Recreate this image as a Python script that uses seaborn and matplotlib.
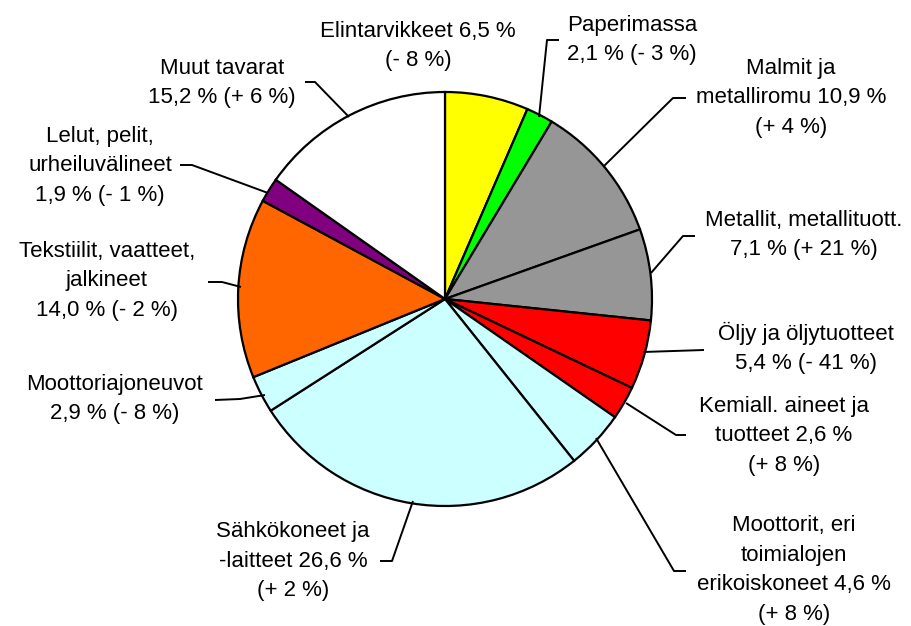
import matplotlib
matplotlib.use("Agg")
import matplotlib.pyplot as plt
import seaborn as sns

# Product groups, share of total (%) and change from previous year
categories = [
    "Elintarvikkeet", "Paperimassa", "Malmit ja metalliromu",
    "Metallit, metallituott.", "Öljy ja öljytuotteet",
    "Kemiall. aineet ja tuotteet", "Moottorit, eri toimialojen erikoiskoneet",
    "Sähkökoneet ja -laitteet", "Moottoriajoneuvot",
    "Tekstiilit, vaatteet, jalkineet", "Lelut, pelit, urheiluvälineet",
    "Muut tavarat",
]
shares = [6.5, 2.1, 10.9, 7.1, 5.4, 2.6, 4.6, 26.6, 2.9, 14.0, 1.9, 15.2]
changes = ["- 8", "- 3", "+ 4", "+ 21", "- 41", "+ 8", "+ 8", "+ 2", "- 8", "- 2", "- 1", "+ 6"]
colors = ["#FFFF00", "#00FF00", "#969696", "#969696", "#FF0000", "#FF0000",
          "#CCFFFF", "#CCFFFF", "#CCFFFF", "#FF6600", "#800080", "#FFFFFF"]

def pct(v):
    return f"{v:.1f}".replace(".", ",") + " %"

labels = [
    f"Elintarvikkeet {pct(shares[0])}\n({changes[0]} %)",
    f"Paperimassa\n{pct(shares[1])} ({changes[1]} %)",
    f"Malmit ja\nmetalliromu {pct(shares[2])}\n({changes[2]} %)",
    f"Metallit, metallituott.\n{pct(shares[3])} ({changes[3]} %)",
    f"Öljy ja öljytuotteet\n{pct(shares[4])} ({changes[4]} %)",
    f"Kemiall. aineet ja\ntuotteet {pct(shares[5])}\n({changes[5]} %)",
    f"Moottorit, eri\ntoimialojen\nerikoiskoneet {pct(shares[6])}\n({changes[6]} %)",
    f"Sähkökoneet ja\n-laitteet {pct(shares[7])}\n({changes[7]} %)",
    f"Moottoriajoneuvot\n{pct(shares[8])} ({changes[8]} %)",
    f"Tekstiilit, vaatteet,\njalkineet\n{pct(shares[9])} ({changes[9]} %)",
    f"Lelut, pelit,\nurheiluvälineet\n{pct(shares[10])} ({changes[10]} %)",
    f"Muut tavarat\n{pct(shares[11])} ({changes[11]} %)",
]

sns.set_theme(style="white")
plt.rcParams["font.family"] = ["Liberation Sans", "DejaVu Sans"]

W, H = 912, 626
fig = plt.figure(figsize=(W / 100, H / 100), dpi=100)
ax = fig.add_axes([0, 0, 1, 1])
ax.set_xlim(0, W)
ax.set_ylim(0, H)
ax.set_aspect("equal")
ax.axis("off")

def Y(y):
    return H - y

cx, cy, r = 445, 299, 207
ax.pie(shares, colors=colors, startangle=90, counterclock=False,
       center=(cx, Y(cy)), radius=r, normalize=True,
       wedgeprops=dict(edgecolor="black", linewidth=1.6))
ax.set_xlim(0, W)
ax.set_ylim(0, H)

# label block centres (x, y of middle) and leader polylines
label_pos = [
    (418, 46), (632, 40), (791, 98), (804, 235), (806, 348), (784, 436),
    (794, 570), (293, 561), (115, 399), (107, 281), (100, 166), (222, 83),
]
leaders = [
    None,
    [(559, 40), (547, 40), (539, 117)],
    [(686, 98), (673, 98), (604, 166)],
    [(695, 236), (683, 236), (651, 273)],
    [(704, 350), (643, 352)],
    [(686, 435), (676, 435), (626, 403)],
    [(686, 571), (674, 571), (596, 438)],
    [(380, 561), (392, 561), (413, 501)],
    [(215, 400), (240, 399), (265, 395)],
    [(208, 282), (222, 282), (241, 287)],
    [(180, 165), (192, 165), (268, 193)],
    [(305, 82), (315, 82), (349, 117)],
]

for text, (x, y), pts in zip(labels, label_pos, leaders):
    ax.text(x, Y(y), text, ha="center", va="center", fontsize=16,
            linespacing=1.54, color="black")
    if pts:
        ax.plot([p[0] for p in pts], [Y(p[1]) for p in pts],
                color="black", linewidth=1.4, solid_capstyle="butt")

fig.savefig("out.png", dpi=100, facecolor="white")
